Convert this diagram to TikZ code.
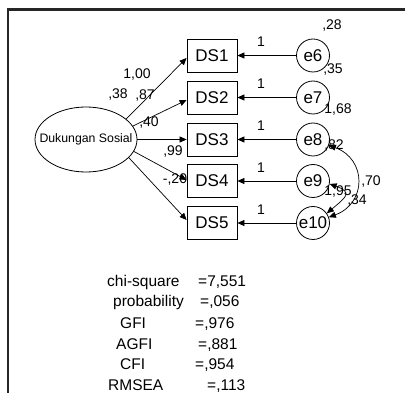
\documentclass[tikz,border=0pt]{standalone}
\usepackage{fontspec}
\setmainfont{Liberation Sans}
\usetikzlibrary{shapes.geometric,arrows.meta}
\begin{document}
\begin{tikzpicture}[x=1pt,y=-1pt,
  every node/.style={inner sep=0pt},
  obs/.style={draw,line width=0.8pt,minimum width=50pt,minimum height=33pt,font=\fontsize{17}{17}\selectfont},
  err/.style={draw,circle,line width=0.8pt,minimum size=33pt,font=\fontsize{17}{17}\selectfont},
  lat/.style={draw,ellipse,line width=0.8pt,minimum width=102pt,minimum height=65pt},
  lattext/.style={font=\fontsize{12.3}{12.3}\selectfont},
  lbl/.style={font=\fontsize{14}{14}\selectfont,text height=1.5ex,text depth=0pt},
  stat/.style={anchor=west,font=\fontsize{15.5}{15.5}\selectfont,text height=1.5ex,text depth=0pt},
  conn/.style={line width=0.7pt,-{Triangle[length=7pt,width=6pt]}},
  cov/.style={line width=0.7pt,{Triangle[length=7pt,width=6pt]}-{Triangle[length=7pt,width=6pt]}},
  frame/.style={line width=2.2pt,black!85}
]
\useasboundingbox (0,0) rectangle (405,393);
% frame
\coordinate (fa) at (8,393);
\coordinate (fb) at (8,9.5);
\coordinate (fc) at (405,9.5);
\draw[frame] (fa) -- (fb) -- (fc);

% latent
\node[lat] (dk) at (86,139.5) {};
\node[lattext] (dkt) at (dk.center) {Dukungan Sosial};

% observed
\node[obs] (ds1) at (212,55.5) {DS1};
\node[obs] (ds2) at (212,97.5) {DS2};
\node[obs] (ds3) at (212,139.5) {DS3};
\node[obs] (ds4) at (212,181) {DS4};
\node[obs] (ds5) at (212,223) {DS5};

% errors
\node[err] (e6) at (313,55.5) {e6};
\node[err] (e7) at (313,97.5) {e7};
\node[err] (e8) at (313,139.5) {e8};
\node[err] (e9) at (313,181) {e9};
\node[err] (e10) at (313,223) {e10};

% loadings
\draw[conn] (dk.27) -- ([yshift=-2.5pt]ds1.west);
\draw[conn] (dk.16) -- ([yshift=-2.5pt]ds2.west);
\draw[conn] (dk.east) -- (ds3.west);
\draw[conn] (dk.-14) -- ([yshift=1pt]ds4.west);
\draw[conn] (dk.-23) -- ([yshift=3pt]ds5.west);

% error paths
\draw[conn] (e6.west) -- (ds1.east);
\draw[conn] (e7.west) -- (ds2.east);
\draw[conn] (e8.west) -- (ds3.east);
\draw[conn] (e9.west) -- (ds4.east);
\draw[conn] (e10.west) -- (ds5.east);

% covariances
\draw[cov] (e8.-20) .. controls +(38,14) and +(38,-14) .. (e10.20);
\draw[cov] (e9.-10) .. controls +(23.5,8.5) and +(19,-16) .. (e10.35);

% labels
\node[lbl] (w1) at (261,43) {1};
\node[lbl] (w2) at (261,85) {1};
\node[lbl] (w3) at (261,127) {1};
\node[lbl] (w4) at (261,168.5) {1};
\node[lbl] (w5) at (261,210.5) {1};

\node[lbl] (v6) at (332,26) {,28};
\node[lbl] (v7) at (333,70) {,35};
\node[lbl] (v8) at (338,110) {1,68};
\node[lbl] (v9) at (334,146) {,82};
\node[lbl] (v10) at (338,192) {1,95};
\node[lbl] (c1) at (371,182) {,70};
\node[lbl] (c2) at (357,201) {,34};

\node[lbl] (l1) at (137,75) {1,00};
\node[lbl] (vl) at (118,95) {,38};
\node[lbl] (l2) at (145,96) {,87};
\node[lbl] (l3) at (149,123) {,40};
\node[lbl] (l4) at (173,152) {,99};
\node[lbl] (l5) at (175,180) {-,20};

% fit statistics
\node[stat] (s1) at (107,283) {chi-square};
\node[stat] (s1v) at (198,283) {=7,551};
\node[stat] (s2) at (113,303) {probability};
\node[stat] (s2v) at (200,303) {=,056};
\node[stat] (s3) at (120,325) {GFI};
\node[stat] (s3v) at (195,325) {=,976};
\node[stat] (s4) at (116,346) {AGFI};
\node[stat] (s4v) at (198,346) {=,881};
\node[stat] (s5) at (120,366) {CFI};
\node[stat] (s5v) at (195,366) {=,954};
\node[stat] (s6) at (108,387) {RMSEA};
\node[stat] (s6v) at (207,387) {=,113};
\end{tikzpicture}
\end{document}
